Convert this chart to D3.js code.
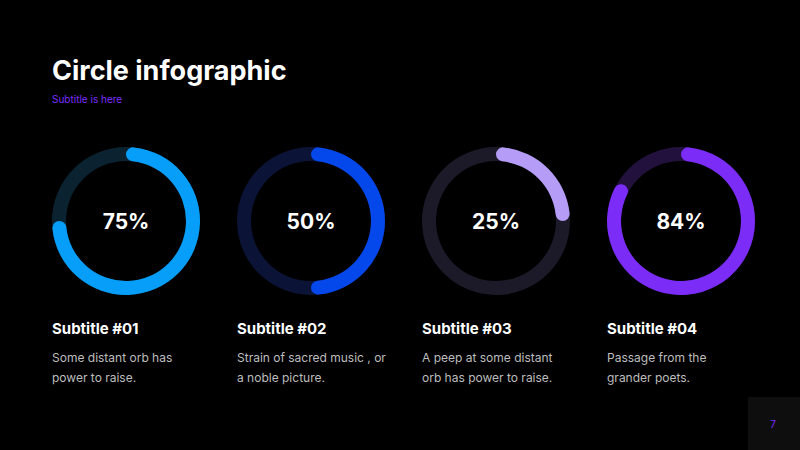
<!DOCTYPE html>
<html><head><meta charset="utf-8">
<script src="https://cdn.jsdelivr.net/npm/d3@7"></script>
<style>body{margin:0;background:#000}svg{display:block}</style>
</head><body><svg id="c" width="800" height="450"></svg>
<script>
const values = [75, 50, 25, 84];
const labels = ["75%", "50%", "25%", "84%"];
const titles = ["Subtitle #01", "Subtitle #02", "Subtitle #03", "Subtitle #04"];
const descriptions = [
  ["Some distant orb has", "power to raise."],
  ["Strain of sacred music , or", "a noble picture."],
  ["A peep at some distant", "orb has power to raise."],
  ["Passage from the", "grander poets."]
];
const colors = ["#069ef8", "#0447ea", "#b59cf6", "#7b2cf6"];
const tracks = ["#0b2331", "#0b1437", "#1c1a29", "#22113d"];

const svg = d3.select("#c");
const F = "Inter, 'Open Sans', sans-serif";
svg.append("rect").attr("width",800).attr("height",450).attr("fill","#000");
svg.append("text").attr("x",52).attr("y",80).attr("fill","#fff").attr("font-family",F)
  .attr("font-size",27).attr("font-weight",700).text("Circle infographic");
svg.append("text").attr("x",52).attr("y",103).attr("fill","#7a2cff").attr("font-family",F)
  .attr("font-size",10).text("Subtitle is here");

const x = d3.scaleBand().domain(d3.range(4)).range([33.5, 773.5]);
const ang = d3.scaleLinear().domain([0,100]).range([0, 2*Math.PI]);
const arc = d3.arc().innerRadius(60).outerRadius(74).cornerRadius(7);

values.forEach((v,i)=>{
  const cx = x(i) + x.bandwidth()/2;
  const g = svg.append("g").attr("transform",`translate(${cx},221)`);
  g.append("path").attr("d", d3.arc().innerRadius(60).outerRadius(74)({startAngle:0,endAngle:2*Math.PI})).attr("fill",tracks[i]);
  g.append("path").attr("d", arc({startAngle:0,endAngle:ang(v)})).attr("fill",colors[i]);
  g.append("text").attr("text-anchor","middle").attr("y",8).attr("fill","#fff").attr("font-family",F)
    .attr("font-size",21).attr("font-weight",700).text(labels[i]);
  const lx = cx - 74;
  svg.append("text").attr("x",lx).attr("y",334).attr("fill","#fff").attr("font-family",F)
    .attr("font-size",15).attr("font-weight",700).text(titles[i]);
  descriptions[i].forEach((t,j)=>{
    svg.append("text").attr("x",lx).attr("y",362+j*20).attr("fill","#bdbdbd").attr("font-family",F)
      .attr("font-size",12).text(t);
  });
});
svg.append("rect").attr("x",748).attr("y",397).attr("width",52).attr("height",53).attr("fill","#0e0e0e");
svg.append("text").attr("x",773).attr("y",428).attr("text-anchor","middle").attr("fill","#7a2cff")
  .attr("font-family",F).attr("font-size",10).text("7");
</script></body></html>
